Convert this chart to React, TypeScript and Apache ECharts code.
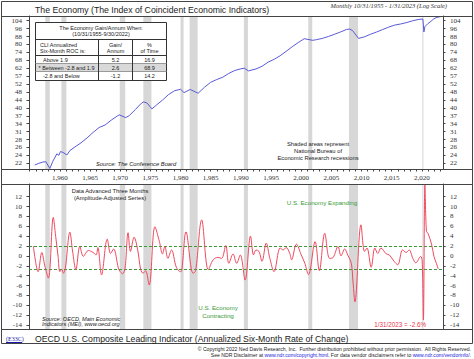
import React, { useEffect, useRef } from 'react';
import * as echarts from 'echarts';

// NBER recessions (decimal years)
const RECESSIONS: [number, number][] = [
  [1957.58, 1958.33], [1960.25, 1961.08], [1969.92, 1970.83], [1973.83, 1975.17],
  [1980.0, 1980.5], [1981.5, 1982.83], [1990.5, 1991.17], [2001.17, 2001.83],
  [2007.92, 2009.42], [2020.08, 2020.25],
];

// Top panel: Index of Coincident Economic Indicators (log scale)
const CEI_DATES = [
  '1955-10', '1956-06', '1957-02', '1957-08', '1958-04', '1958-10', '1959-06', '1959-10',
  '1960-01', '1960-06', '1961-02', '1961-08', '1962-06', '1963-06', '1964-06', '1965-06',
  '1966-06', '1967-06', '1968-06', '1969-06', '1969-10', '1970-11', '1971-06', '1972-06',
  '1973-06', '1973-11', '1974-06', '1975-03', '1975-12', '1976-12', '1977-12', '1978-12',
  '1979-12', '1980-07', '1981-07', '1982-11', '1983-12', '1984-12', '1985-12', '1986-12',
  '1987-12', '1988-12', '1989-12', '1990-07', '1991-03', '1992-06', '1993-06', '1994-06',
  '1995-06', '1996-06', '1997-06', '1998-06', '1999-06', '2000-06', '2001-11', '2002-06',
  '2003-06', '2004-06', '2005-06', '2006-06', '2007-06', '2007-12', '2008-06', '2009-06',
  '2010-06', '2011-06', '2012-06', '2013-06', '2014-06', '2015-06', '2016-06', '2017-06',
  '2018-06', '2019-06', '2020-02', '2020-04', '2020-06', '2020-12', '2021-06', '2021-12',
  '2022-06', '2023-01',
];
const CEI_VALUES = [
  21.6, 22.0, 22.3, 22.4, 20.8, 22.5, 24.4, 24.0,
  25.0, 24.8, 24.1, 25.3, 26.3, 27.5, 29.0, 30.8,
  32.5, 33.4, 35.2, 36.8, 37.3, 36.2, 37.0, 39.5,
  42.3, 43.0, 42.3, 39.8, 41.5, 43.8, 46.5, 48.5,
  49.3, 47.5, 49.2, 47.2, 50.5, 53.2, 54.8, 56.2,
  58.6, 60.5, 61.6, 62.0, 60.2, 61.5, 63.3, 66.2,
  68.3, 71.0, 74.5, 78.3, 82.0, 85.5, 84.0, 84.6,
  85.8, 87.6, 89.7, 92.0, 94.5, 95.0, 93.5, 85.8,
  87.3, 89.8, 92.0, 94.5, 97.0, 99.2, 100.4, 102.0,
  104.0, 105.5, 106.0, 92.0, 97.5, 100.8, 103.3, 106.3,
  107.9, 108.7,
];
const TOP_TICKS = [22, 24, 26, 28, 31, 34, 37, 40, 44, 48, 52, 57, 62, 68, 74, 80, 88, 96, 104];

// Bottom panel: OECD CLI, annualized six-month rate of change (advanced 3 months)
const CLI_X = [
  1955.6, 1956.4, 1957.0, 1957.5, 1958.1, 1958.9, 1959.3, 1959.7, 1960.0, 1960.3, 1960.6, 1960.9,
  1961.66, 1962.1, 1962.65, 1963.3, 1963.9, 1964.7, 1965.5, 1966.0, 1966.3, 1966.9, 1967.85, 1968.4,
  1968.9, 1969.7, 1970.0, 1970.4, 1970.8, 1971.3, 1971.7, 1972.3, 1972.9, 1973.4, 1973.8, 1974.2,
  1974.8, 1975.75, 1976.5, 1977.0, 1977.4, 1977.9, 1978.5, 1979.3, 1980.0, 1980.2, 1980.9, 1981.8,
  1982.1, 1982.5, 1983.5, 1984.6, 1985.4, 1986.2, 1986.8, 1987.5, 1988.0, 1988.7, 1989.3, 1989.9,
  1990.7, 1991.6, 1992.1, 1992.5, 1993.0, 1993.5, 1994.2, 1994.8, 1995.5, 1996.5, 1997.0, 1997.5,
  1998.1, 1998.4, 1999.2, 2000.0, 2000.6, 2001.2, 2002.3, 2003.0, 2003.9, 2004.7, 2005.3, 2006.1,
  2006.6, 2007.2, 2007.7, 2008.3, 2008.6, 2008.9, 2009.9, 2010.5, 2010.9, 2011.6, 2012.2, 2012.7,
  2013.2, 2014.1, 2014.6, 2015.4, 2016.0, 2016.8, 2017.4, 2017.9, 2018.5, 2019.0, 2019.8, 2020.05,
  2020.25, 2020.5, 2020.75, 2021.0, 2021.6, 2022.0, 2022.4, 2022.7,
];
const CLI_Y = [
  2.0, -3.2, 0.7, -2.0, -4.5, 7.8, 4.0, -0.1, -3.2, -2.7, -3.5, -2.5,
  4.8, 1.0, -2.8, 1.9, -0.1, 1.1, 0.7, 0.2, 1.7, -3.85, 3.4, 0.5,
  1.4, -2.5, -3.2, -3.6, -2.5, 4.7, 0.9, 3.8, 1.2, -2.8, -3.5, -3.0,
  -5.9, 5.9, 2.9, 0.4, 1.9, -0.5, 1.2, -2.3, -3.2, -3.0, 4.9, -2.8,
  -3.5, -3.0, 7.3, -2.8, -0.8, -0.3, -0.5, 2.1, -1.5, 0.4, -1.5, 0.2,
  -4.9, 4.0, 0.2, 1.2, 0.9, -1.1, 2.6, -0.5, -3.2, 1.6, 1.2, 1.7,
  0.5, -0.8, 2.4, 0.2, -1.5, -3.8, 2.9, -3.0, 4.6, -0.5, -0.3, 1.9,
  0.0, 1.4, 0.2, -1.5, -5.5, -9.3, 6.3, 0.9, 1.6, -2.3, 1.6, 0.5,
  1.6, 0.4, 0.2, -1.1, -1.8, 1.2, 0.7, 1.2, -0.5, -1.4, -0.1, -1.0,
  -13.0, 14.4, 5.0, 4.6, 2.4, -0.1, -1.5, -2.6,
];
const BOTTOM_TICKS = [-14, -12, -10, -8, -6, -4, -2, 0, 2, 4, 6, 8, 10, 12];
const UPPER_BAND = 1.9;
const LOWER_BAND = -2.8;
const YEAR_LABELS = [1960, 1965, 1970, 1975, 1980, 1985, 1990, 1995, 2000, 2005, 2010, 2015, 2020];

const TABLE_ROWS = [
  ['Above 1.9', '5.2', '16.9'],
  ['* Between -2.8 and 1.9', '2.6', '68.9'],
  ['-2.8 and Below', '-1.2', '14.2'],
];

const toYear = (s: string) => {
  const [y, m] = s.split('-').map(Number);
  return y + m / 12;
};

const SANS = 'Liberation Sans, Arial, sans-serif';
const SERIF = 'Liberation Serif, Times New Roman, serif';

const X_MIN = 1954.88;
const X_MAX = 2023.5;
const LOG_STEP = Math.log(104 / 22) / 18;
const TOP_TICK_POS = TOP_TICKS.map((_, i) => Math.log(22) + i * LOG_STEP);

function buildOption(): any {
  const years: number[] = [];
  for (let y = 1955; y <= 2023; y++) years.push(y);
  const recAreas = RECESSIONS.map(([a, b]) => [{ xAxis: a }, { xAxis: b }]);
  const txt = (text: string, x: number, y: number, font: string, fill = '#222', align = 'left', extra: any = {}) => ({
    type: 'text', z: 100, silent: true,
    style: { text, x, y, font, fill, align, verticalAlign: 'middle', ...extra },
  });
  const hline = (x1: number, x2: number, y: number, stroke = '#444', z = 100) => ({
    type: 'line', z, silent: true, shape: { x1, y1: y, x2, y2: y }, style: { stroke, lineWidth: 1 },
  });
  const vline = (x: number, y1: number, y2: number, stroke = '#444') => ({
    type: 'line', z: 100, silent: true, shape: { x1: x, y1, x2: x, y2 }, style: { stroke, lineWidth: 1 },
  });
  const tf = `5.5px ${SANS}`;
  const tableEls: any[] = [
    { type: 'rect', z: 90, silent: true, shape: { x: 35.5, y: 22.5, width: 131, height: 58 }, style: { fill: '#fff', stroke: '#333', lineWidth: 1 } },
    { type: 'rect', z: 91, silent: true, shape: { x: 36, y: 63.5, width: 130, height: 7.5 }, style: { fill: '#d9d9d9' } },
    hline(35.5, 166.5, 39.5, '#333'),
    hline(35.5, 166.5, 55.5, '#333'),
    hline(35.5, 166.5, 63.5, '#999'),
    hline(35.5, 166.5, 71.5, '#999'),
    vline(98.5, 39.5, 80.5, '#333'),
    vline(132.5, 39.5, 80.5, '#333'),
    txt('The Economy Gain/Annum When:', 101, 28, tf, '#222', 'center'),
    txt('(10/31/1955-9/30/2022)', 101, 34, tf, '#222', 'center'),
    txt('CLI Annualized', 40, 44.5, tf),
    txt('Six-Month ROC is:', 40, 50.5, tf),
    txt('Gain/', 115.5, 44.5, tf, '#222', 'center'),
    txt('Annum', 115.5, 50.5, tf, '#222', 'center'),
    txt('%', 149.5, 44.5, tf, '#222', 'center'),
    txt('of Time', 149.5, 50.5, tf, '#222', 'center'),
  ];
  TABLE_ROWS.forEach((r, i) => {
    const y = 59.5 + i * 8;
    tableEls.push(txt(r[0], i === 1 ? 38.5 : 43, y, tf));
    tableEls.push(txt(r[1], 115.5, y, tf, '#222', 'center'));
    tableEls.push(txt(r[2], 149.5, y, tf, '#222', 'center'));
  });

  const graphic: any[] = [
    { type: 'rect', z: 99, silent: true, shape: { x: 1.5, y: 1.5, width: 471, height: 342 }, style: { fill: 'none', stroke: '#444', lineWidth: 1 } },
    hline(1.5, 472.5, 16.5),
    hline(1.5, 472.5, 169.5),
    hline(1.5, 472.5, 184.5),
    hline(1.5, 472.5, 329.5),
    txt('The Economy (The Index of Coincident Economic Indicators)', 35, 10, `8.7px ${SANS}`, '#222'),
    txt('Monthly 10/31/1955 - 1/31/2023 (Log Scale)', 447, 5.5, `italic 6.5px ${SERIF}`, '#333', 'right'),
    txt('Source: The Conference Board', 96, 163.5, `italic 5.8px ${SANS}`, '#222'),
    txt('Shaded areas represent', 318, 144, `5.8px ${SANS}`, '#222', 'center'),
    txt('National Bureau of', 318, 151, `5.8px ${SANS}`, '#222', 'center'),
    txt('Economic Research recessions', 318, 158, `5.8px ${SANS}`, '#222', 'center'),
    txt('Data Advanced Three Months', 110, 190.5, `5.8px ${SANS}`, '#222', 'center'),
    txt('(Amplitude-Adjusted Series)', 110, 197.5, `5.8px ${SANS}`, '#222', 'center'),
    txt('U.S. Economy Expanding', 322, 202, `6.2px ${SANS}`, '#3a9a3a', 'center'),
    txt('U.S. Economy', 218, 307.5, `6.2px ${SANS}`, '#3a9a3a', 'center'),
    txt('Contracting', 218, 315, `6.2px ${SANS}`, '#3a9a3a', 'center'),
    txt('Source: OECD, Main Economic', 42, 318.5, `italic 5.6px ${SANS}`, '#222'),
    txt('Indicators (MEI), www.oecd.org', 42, 324, `italic 5.6px ${SANS}`, '#222'),
    txt('1/31/2023 = -2.6%', 426, 324.5, `6.3px ${SANS}`, '#e8384f', 'right'),
    txt('OECD U.S. Composite Leading Indicator (Annualized Six-Month Rate of Change)', 35, 339, `8.7px ${SANS}`, '#222'),
    txt('(E33C)', 6, 339, `6px ${SERIF}`, '#1a1aaa'),
    hline(6, 22, 342.5, '#1a1aaa'),
    txt('\u00a9 Copyright 2022 Ned Davis Research, Inc.  Further distribution prohibited without prior permission.  All Rights Reserved.', 471, 348.5, `5.1px ${SANS}`, '#222', 'right'),
    {
      type: 'text', z: 100, silent: true,
      style: {
        text: '{a|See NDR Disclaimer at }{l|www.ndr.com/copyright.html}{a|. For data vendor disclaimers refer to }{l|www.ndr.com/vendorinfo/}{a|.}',
        x: 471, y: 354.5, align: 'right', verticalAlign: 'middle',
        rich: {
          a: { font: `5.1px ${SANS}`, fill: '#222' },
          l: { font: `5.1px ${SANS}`, fill: '#1a1add' },
        },
      },
    },
    ...tableEls,
  ];

  const yLabel = { fontFamily: SERIF, fontSize: 7, color: '#333' };
  const axisLine = { show: true, lineStyle: { color: '#444', width: 1 } };

  return {
    animation: false,
    backgroundColor: '#fff',
    grid: [
      { left: 29, right: 31, top: 16, height: 153 },
      { left: 29, right: 31, top: 184, height: 145 },
    ],
    xAxis: [
      {
        type: 'value', gridIndex: 0, min: X_MIN, max: X_MAX, position: 'bottom',
        axisLine: { show: false }, splitLine: { show: false },
        axisTick: { show: true, length: 2.5, customValues: years, lineStyle: { color: '#444' } },
        axisLabel: { customValues: YEAR_LABELS, margin: 5.5, ...yLabel },
      },
      {
        type: 'value', gridIndex: 1, min: X_MIN, max: X_MAX, show: false, splitLine: { show: false },
      },
    ],
    yAxis: [
      {
        type: 'value', gridIndex: 0, position: 'left', min: Math.log(20.68), max: Math.log(109.5),
        splitLine: { show: false }, axisLine,
        axisTick: { show: true, length: 2.5, customValues: TOP_TICK_POS, lineStyle: { color: '#444' } },
        axisLabel: {
          customValues: TOP_TICK_POS, margin: 7, ...yLabel,
          formatter: (v: number) => String(TOP_TICKS[Math.round((v - Math.log(22)) / LOG_STEP)] ?? ''),
        },
      },
      {
        type: 'value', gridIndex: 0, position: 'right', min: Math.log(20.68), max: Math.log(109.5),
        splitLine: { show: false }, axisLine,
        axisTick: { show: true, length: 2.5, customValues: TOP_TICK_POS, lineStyle: { color: '#444' } },
        axisLabel: {
          customValues: TOP_TICK_POS, margin: 7, ...yLabel,
          formatter: (v: number) => String(TOP_TICKS[Math.round((v - Math.log(22)) / LOG_STEP)] ?? ''),
        },
      },
      {
        type: 'value', gridIndex: 1, position: 'left', min: -14.81, max: 14.57,
        splitLine: { show: false }, axisLine,
        axisTick: { show: true, length: 2.5, customValues: BOTTOM_TICKS, lineStyle: { color: '#444' } },
        axisLabel: { customValues: BOTTOM_TICKS, margin: 7, ...yLabel },
      },
      {
        type: 'value', gridIndex: 1, position: 'right', min: -14.81, max: 14.57,
        splitLine: { show: false }, axisLine,
        axisTick: { show: true, length: 2.5, customValues: BOTTOM_TICKS, lineStyle: { color: '#444' } },
        axisLabel: { customValues: BOTTOM_TICKS, margin: 7, ...yLabel },
      },
    ],
    series: [
      {
        type: 'line', xAxisIndex: 0, yAxisIndex: 0, showSymbol: false, silent: true,
        data: CEI_DATES.map((d, i) => [toYear(d), Math.log(CEI_VALUES[i])]),
        lineStyle: { color: '#5a5ad8', width: 1 },
        markArea: { silent: true, itemStyle: { color: '#d7d7d7' }, data: recAreas },
        z: 5,
      },
      {
        type: 'line', xAxisIndex: 1, yAxisIndex: 2, showSymbol: false, silent: true, smooth: 0.35,
        data: CLI_X.map((x, i) => [x, CLI_Y[i]]),
        lineStyle: { color: '#ee4a5e', width: 1 },
        markArea: { silent: true, itemStyle: { color: '#d7d7d7' }, data: recAreas },
        markLine: {
          silent: true, symbol: ['none', 'none'], label: { show: false },
          lineStyle: { color: '#3a9a3a', type: [3, 2], width: 1 },
          data: [{ yAxis: UPPER_BAND }, { yAxis: LOWER_BAND }],
        },
        z: 5,
      },
    ],
    graphic,
  };
}

export default function App() {
  const ref = useRef<HTMLDivElement>(null);
  useEffect(() => {
    document.body.style.margin = '0';
    const chart = echarts.init(ref.current!, null, { renderer: 'svg' });
    chart.setOption(buildOption());
    return () => chart.dispose();
  }, []);
  return <div ref={ref} style={{ width: 474, height: 359 }} />;
}
